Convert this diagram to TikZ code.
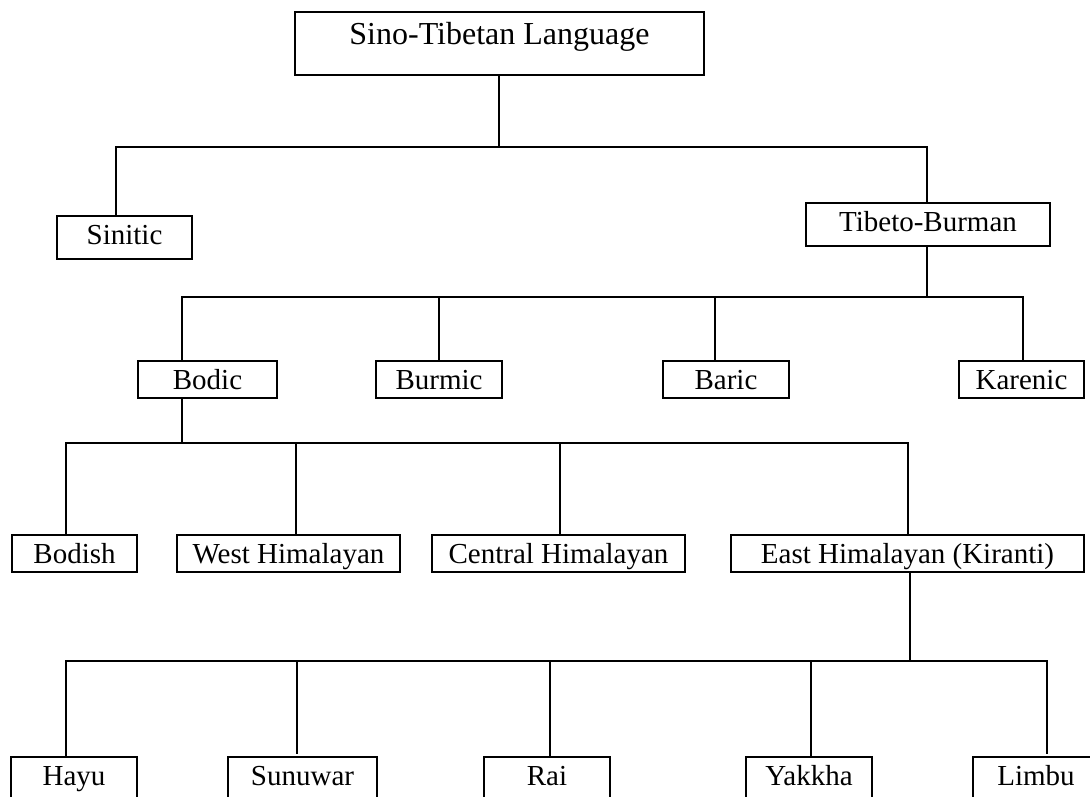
\documentclass[tikz,border=0pt]{standalone}
\usepackage{fontspec}
\setmainfont{Liberation Serif}
\begin{document}
\begin{tikzpicture}[x=1pt,y=-1pt,
  lbox/.style 2 args={draw, line width=1.6pt, inner sep=0pt, outer sep=0pt,
    anchor=north west, align=center, font=\fontsize{29pt}{34pt}\selectfont,
    text height=28pt, minimum width=#1, text depth=#2},
  topbox/.style={draw, line width=1.6pt, inner sep=0pt, outer sep=0pt,
    anchor=north west, align=center, font=\fontsize{32pt}{38pt}\selectfont,
    text height=32pt, text depth=31pt, minimum width=409pt},
  conn/.style={line width=1.6pt, line join=miter}]
\useasboundingbox (0,0) rectangle (1090,796);
% level 0
\node[topbox] (top) at (295,12) {Sino-Tibetan Language};
% level 1
\node[lbox={135pt}{15pt}] (sin) at (57,216) {Sinitic};
\node[lbox={244pt}{15pt}] (tb) at (806,203) {Tibeto-Burman};
% level 2
\node[lbox={139pt}{9pt}] (bodic) at (138,361) {Bodic};
\node[lbox={126pt}{9pt}] (burmic) at (376,361) {Burmic};
\node[lbox={126pt}{9pt}] (baric) at (663,361) {Baric};
\node[lbox={125pt}{9pt}] (karenic) at (959,361) {Karenic};
% level 3
\node[lbox={125pt}{9pt}] (bodish) at (12,535) {Bodish};
\node[lbox={223pt}{9pt}] (west) at (177,535) {West Himalayan};
\node[lbox={253pt}{9pt}] (central) at (432,535) {Central Himalayan};
\node[lbox={353pt}{9pt}] (east) at (731,535) {East Himalayan (Kiranti)};
% level 4
\node[lbox={126pt}{15pt}] (hayu) at (11,757) {Hayu};
\node[lbox={149pt}{15pt}] (sunuwar) at (228,757) {Sunuwar};
\node[lbox={126pt}{15pt}] (rai) at (484,757) {Rai};
\node[lbox={126pt}{15pt}] (yakkha) at (746,757) {Yakkha};
\node[lbox={126pt}{15pt}] (limbu) at (973,757) {Limbu};
% junctions
\coordinate (a0) at (499,147);
\coordinate (a1) at (116,147);
\coordinate (a2) at (927,147);
\coordinate (b0) at (927,297);
\coordinate (b1) at (182,297);
\coordinate (b2) at (439,297);
\coordinate (b3) at (715,297);
\coordinate (b4) at (1023,297);
\coordinate (c0) at (182,443);
\coordinate (c1) at (66,443);
\coordinate (c2) at (296,443);
\coordinate (c3) at (560,443);
\coordinate (c4) at (908,443);
\coordinate (d0) at (910,661);
\coordinate (d1) at (66,661);
\coordinate (d2) at (297,661);
\coordinate (d3) at (550,661);
\coordinate (d4) at (811,661);
\coordinate (d5) at (1047,661);
% connectors level 0 -> 1
\draw[conn] (top.south -| a0) -- (a0);
\draw[conn] (sin.north -| a1) -- (a1) -- (a2) -- (tb.north -| a2);
% level 1 -> 2
\draw[conn] (tb.south -| b0) -- (b0);
\draw[conn] (bodic.north -| b1) -- (b1) -- (b4) -- (karenic.north -| b4);
\draw[conn] (b2) -- (burmic.north -| b2);
\draw[conn] (b3) -- (baric.north -| b3);
% level 2 -> 3
\draw[conn] (bodic.south -| c0) -- (c0);
\draw[conn] (bodish.north -| c1) -- (c1) -- (c4) -- (east.north -| c4);
\draw[conn] (c2) -- (west.north -| c2);
\draw[conn] (c3) -- (central.north -| c3);
% level 3 -> 4
\draw[conn] (east.south -| d0) -- (d0);
\draw[conn] (hayu.north -| d1) -- (d1) -- (d5) -- ([yshift=3pt]limbu.north -| d5);
\draw[conn] (d2) -- ([yshift=3pt]sunuwar.north -| d2);
\draw[conn] (d3) -- (rai.north -| d3);
\draw[conn] (d4) -- (yakkha.north -| d4);
\end{tikzpicture}
\end{document}
